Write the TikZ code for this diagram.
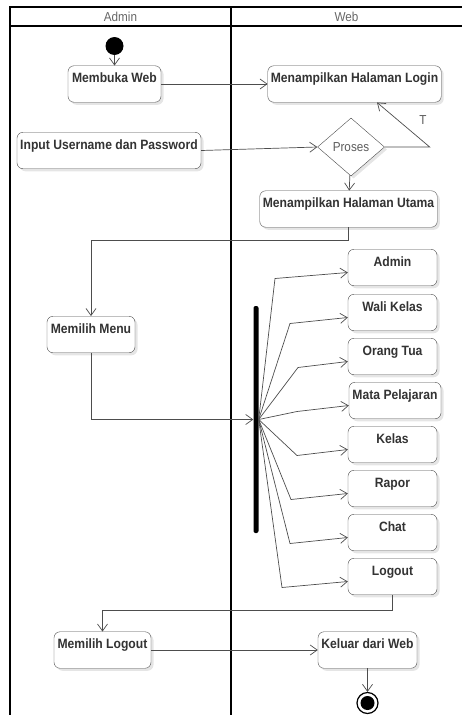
\documentclass[tikz,border=0pt]{standalone}
\usepackage{fontspec}
\setmainfont{Liberation Sans}[FakeStretch=0.9]
\usetikzlibrary{arrows.meta, shapes.geometric, shadows, calc}
\definecolor{ink}{HTML}{333333}
\definecolor{edge}{HTML}{4D4D4D}
\definecolor{lanegray}{HTML}{666666}

\begin{document}
\begin{tikzpicture}[
  x=1pt, y=-1pt,
  font=\fontsize{13}{15}\selectfont,
  act/.style={draw=edge, rounded corners=6pt, fill=white, align=center, text=ink, font=\fontsize{13.5}{15}\selectfont\bfseries, inner xsep=3pt, inner ysep=3pt, text height=14pt, text depth=16.5pt, drop shadow={shadow xshift=2.5pt, shadow yshift=-2.5pt, fill=black!10, opacity=1}},
  decision/.style={diamond, draw=edge, fill=white, text=ink!80, inner sep=0pt, minimum width=67pt, minimum height=58pt, font=\fontsize{13}{15}\selectfont, drop shadow={shadow xshift=2.5pt, shadow yshift=-2.5pt, fill=black!10, opacity=1}},
  initial/.style={circle, fill=black, minimum size=18pt, inner sep=0pt},
  final/.style={circle, draw=black, line width=1.2pt, fill=white, minimum size=21pt, inner sep=0pt, path picture={\fill[black] (path picture bounding box.center) circle (7pt);}},
  forkbar/.style={fill=black, minimum width=5pt, minimum height=227pt, inner sep=0pt, rounded corners=2pt},
  lane/.style={line width=1.3pt, black},
  lanehead/.style={text=lanegray, font=\fontsize{13}{15}\selectfont},
  arrow/.style={draw=edge, line width=0.7pt, -{Straight Barb[length=7pt, width=10pt]}}
]
\useasboundingbox (0,0) rectangle (462,715);

% Swimlanes
\draw[lane] (10,715) -- (10,7) -- (462,7);
\draw[lane] (10,26) -- (462,26);
\draw[lane] (231,7) -- (231,715);
\node[lanehead] (hadmin) at (120.5,17) {Admin};
\node[lanehead] (hweb) at (346.5,17) {Web};

% Login
\node[initial] (start) at (114.5,46) {};
\node[act, minimum width=93pt] (membuka) at (114.5,84) {Membuka Web};
\node[act, minimum width=173pt] (login) at (354.5,84) {Menampilkan Halaman Login};
\node[act, minimum width=184pt] (input) at (109,150.5) {Input Username dan Password};
\node[decision] (proses) at (351,147) {Proses};
\node[text=ink!80, font=\fontsize{13}{15}\selectfont] (tlabel) at (423,120) {T};
\node[act, minimum width=177pt] (utama) at (348.5,209) {Menampilkan Halaman Utama};

% Menu
\node[act, minimum width=88pt] (menu) at (91,334.5) {Memilih Menu};
\node[forkbar] (bar) at (256,419.5) {};
\node[act, minimum width=89pt] (admin) at (392.5,267.5) {Admin};
\node[act, minimum width=89pt] (wali) at (392.5,312.5) {Wali Kelas};
\node[act, minimum width=89pt] (ortu) at (392.5,356.5) {Orang Tua};
\node[act, minimum width=92pt] (mapel) at (395,400.5) {Mata Pelajaran};
\node[act, minimum width=89pt] (kelas) at (392.5,444.5) {Kelas};
\node[act, minimum width=89pt] (rapor) at (392.5,488.5) {Rapor};
\node[act, minimum width=89pt] (chat) at (392.5,532.5) {Chat};
\node[act, minimum width=89pt] (logout) at (392.5,576.5) {Logout};

% Logout
\node[act, minimum width=97pt] (pilihlogout) at (102.5,650) {Memilih Logout};
\node[act, minimum width=99pt] (keluar) at (367.5,650) {Keluar dari Web};
\node[final] (end) at (367.5,703) {};

% Arrows
\draw[arrow] (start) -- (membuka);
\draw[arrow] (membuka) -- (login);
\draw[arrow] (input.east) -- (proses.west);
\draw[arrow] (proses.east) -- ++(45,0) -- ($(login.south)+(22.5,0)$);
\draw[arrow] (proses) -- (utama);
\draw[arrow] (utama.south) -- ++(0,13) -| (menu.north);
\draw[arrow] (menu.south) |- (bar.west);
\foreach \n/\bx/\ay in {admin/275/272.5, wali/290/317.5, ortu/298/361.5, mapel/297/405.5, kelas/297/449.5, rapor/291/493.5, chat/290/537.5, logout/282/581.5}
  \draw[arrow] (bar.east) -- (\bx,\ay+6) -- (\n.west |- 0,\ay);
\draw[arrow] (logout.south) -- ++(0,15) -| (pilihlogout.north);
\draw[arrow] (pilihlogout) -- (keluar);
\draw[arrow] (keluar) -- (end);

\end{tikzpicture}
\end{document}
